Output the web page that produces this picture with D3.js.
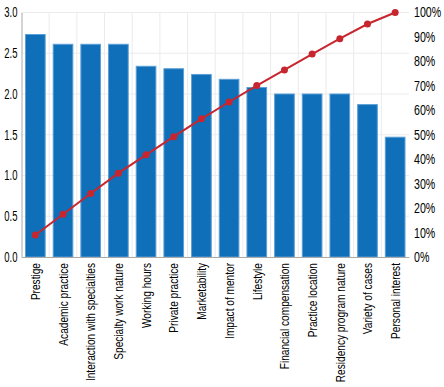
<!DOCTYPE html>
<html>
<head>
<meta charset="utf-8">
<script src="https://cdn.jsdelivr.net/npm/d3@7"></script>
<style>
  body { margin: 0; background: #fff; }
  svg text { font-family: "Liberation Sans", Arial, sans-serif; fill: #000; }
</style>
</head>
<body>
<div class="chart"></div>
<script>
// facteurs et scores moyens
const factors = ["Prestige", "Academic practice", "Interaction with specialties", "Specialty work nature",
  "Working hours", "Private practice", "Marketability", "Impact of mentor", "Lifestyle",
  "Financial compensation", "Practice location", "Residency program nature", "Variety of cases", "Personal interest"]
const scores = [2.73, 2.61, 2.61, 2.61, 2.34, 2.31, 2.24, 2.18, 2.08, 2.0, 2.0, 2.0, 1.87, 1.47]
// pourcentage cumulé (ligne rouge)
const cumPct = [9.0, 17.5, 26.0, 34.3, 41.8, 49.2, 56.5, 63.4, 70.1, 76.5, 83.0, 89.3, 95.3, 100]
const leftTicks = [0, 0.5, 1, 1.5, 2, 2.5, 3]
const rightTicks = [0, 10, 20, 30, 40, 50, 60, 70, 80, 90, 100]

const WIDTH = 444
const HEIGHT = 387
const mLeft = 21.5, mRight = 409, mTop = 12.5, mBottom = 257
// police étroite (compression horizontale)
const SQ_LEFT = 0.68, SQ_RIGHT = 0.76, SQ_X = 0.75

const svg = d3.select(".chart").append("svg")
  .attr("width", WIDTH)
  .attr("height", HEIGHT)

const x = d3.scaleBand().domain(factors).range([mLeft, mRight]).paddingInner(0.29).paddingOuter(0.145)
const y = d3.scaleLinear().domain([0, 3]).range([mBottom, mTop])
const yp = d3.scaleLinear().domain([0, 100]).range([mBottom, mTop])

// grille
svg.append("g").selectAll("line.h").data(leftTicks.slice(1)).join("line")
  .attr("x1", mLeft).attr("x2", mRight)
  .attr("y1", d => y(d)).attr("y2", d => y(d))
  .attr("stroke", "#ebebeb").attr("stroke-width", 1)

const step = x.step()
svg.append("g").selectAll("line.v").data(factors.slice(1)).join("line")
  .attr("x1", d => x(d) - (step - x.bandwidth()) / 2)
  .attr("x2", d => x(d) - (step - x.bandwidth()) / 2)
  .attr("y1", mTop).attr("y2", mBottom)
  .attr("stroke", "#ebebeb").attr("stroke-width", 1)

// barres
svg.append("g").selectAll("rect").data(scores).join("rect")
  .attr("x", (d, i) => x(factors[i]))
  .attr("y", d => y(d))
  .attr("width", x.bandwidth())
  .attr("height", d => y(0) - y(d))
  .attr("fill", "#0f6fb8")
  .attr("stroke", "#5c9fd6")
  .attr("stroke-width", 1)

// axes
const yAxis = svg.append("g").attr("transform", `translate(${mLeft},0)`)
  .call(d3.axisLeft(y).tickValues(leftTicks).tickFormat(d3.format(".1f")).tickSize(0).tickPadding(4))
yAxis.select(".domain").attr("stroke", "#aaa")
yAxis.selectAll("text")
  .attr("font-size", 14)
  .attr("x", -4 / SQ_LEFT)
  .attr("transform", `scale(${SQ_LEFT},1)`)

const pAxis = svg.append("g").attr("transform", `translate(${mRight},0)`)
  .call(d3.axisRight(yp).tickValues(rightTicks).tickFormat(d => d + "%").tickSize(0).tickPadding(5))
pAxis.select(".domain").remove()
pAxis.selectAll("text")
  .attr("font-size", 14)
  .attr("x", 5 / SQ_RIGHT)
  .attr("transform", `scale(${SQ_RIGHT},1)`)

const xAxis = svg.append("g").attr("transform", `translate(0,${mBottom})`)
  .call(d3.axisBottom(x).tickSize(0).tickPadding(0))
xAxis.select(".domain").attr("stroke", "#aaa")
xAxis.selectAll("text")
  .attr("font-size", 13.5)
  .attr("text-anchor", "end")
  .attr("dy", "0.35em")
  .attr("transform", `translate(0,6) rotate(-90) scale(${SQ_X},1)`)
  .attr("x", 0).attr("y", 0)

// ligne cumulée
const line = d3.line()
  .x((d, i) => x(factors[i]) + x.bandwidth() / 2)
  .y(d => yp(d))

svg.append("path").datum(cumPct)
  .attr("d", line)
  .attr("fill", "none")
  .attr("stroke", "#c8262e")
  .attr("stroke-width", 2)

svg.append("g").selectAll("circle").data(cumPct).join("circle")
  .attr("cx", (d, i) => x(factors[i]) + x.bandwidth() / 2)
  .attr("cy", d => yp(d))
  .attr("r", 3.5)
  .attr("fill", "#c8262e")
</script>
</body>
</html>
